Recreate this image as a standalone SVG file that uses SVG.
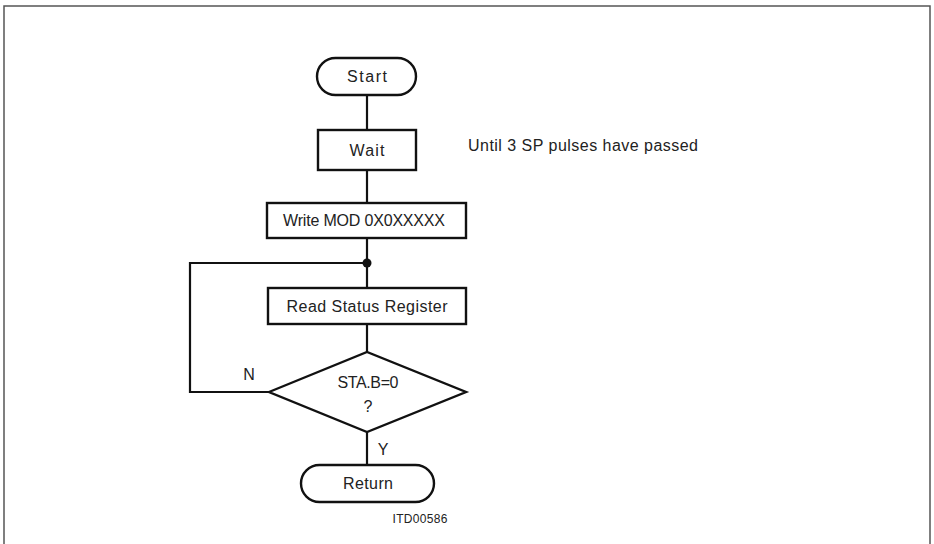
<svg xmlns="http://www.w3.org/2000/svg" width="934" height="544" viewBox="0 0 934 544">
<style>
.shape{fill:#fff;stroke:#111;stroke-width:2.4}
.line{fill:none;stroke:#111;stroke-width:2.2}
.frame{fill:none;stroke:#555;stroke-width:1.5}
text{font-family:"Liberation Sans",Arial,sans-serif;font-size:16px;fill:#222}
.c{text-anchor:middle}
.small{font-size:12px}
</style>
<rect width="934" height="544" fill="#fff"/>
<path class="frame" d="M4,544 V6 H930 V544"/>
<g id="connectors">
<path class="line" d="M367,95 V130"/>
<path class="line" d="M367,170 V203"/>
<path class="line" d="M367,238 V288"/>
<path class="line" d="M367,324 V352"/>
<path class="line" d="M367,432 V465"/>
<path class="line" d="M269,392 H190 V263 H367"/>
<circle cx="367" cy="263" r="4.5" fill="#111"/>
<text x="249" y="380" class="c">N</text>
<text x="383" y="455" class="c">Y</text>
</g>
<g id="start">
<rect class="shape" x="317" y="58" width="99" height="37" rx="18.5"/>
<text x="367" y="82" class="c" textLength="40" lengthAdjust="spacing">Start</text>
</g>
<g id="wait">
<rect class="shape" x="318" y="130" width="98" height="40"/>
<text x="367" y="156" class="c" textLength="35" lengthAdjust="spacing">Wait</text>
</g>
<g id="note">
<text x="468" y="151" textLength="230" lengthAdjust="spacing">Until 3 SP pulses have passed</text>
</g>
<g id="write">
<rect class="shape" x="267" y="203" width="199" height="35"/>
<text x="364" y="226" class="c" textLength="162" lengthAdjust="spacing">Write MOD 0X0XXXXX</text>
</g>
<g id="read">
<rect class="shape" x="268" y="288" width="198" height="36"/>
<text x="367" y="312" class="c" textLength="161" lengthAdjust="spacing">Read Status Register</text>
</g>
<g id="decision">
<polygon class="shape" points="269,392 367,352 466,392 367,432"/>
<text x="368" y="388" class="c" textLength="61" lengthAdjust="spacing">STA.B=0</text>
<text x="368" y="412" class="c">?</text>
</g>
<g id="return">
<rect class="shape" x="301" y="465" width="133" height="37" rx="18.5"/>
<text x="368" y="489" class="c" textLength="50" lengthAdjust="spacing">Return</text>
</g>
<g id="label">
<text x="420" y="523" class="c small" textLength="55" lengthAdjust="spacing">ITD00586</text>
</g>
</svg>
